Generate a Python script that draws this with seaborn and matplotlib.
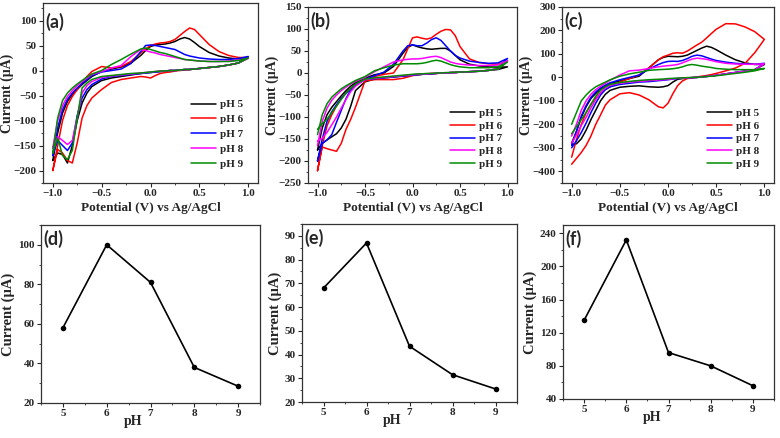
import numpy as np
import pandas as pd
import seaborn as sns
from matplotlib import pyplot as plt
from matplotlib.ticker import MultipleLocator

# Potential grid (V vs Ag/AgCl) shared by the anodic (forward) and cathodic (reverse) branch
E_GRID = [-1.0, -0.95, -0.9, -0.85, -0.8, -0.75, -0.7, -0.65, -0.6, -0.5, -0.4, -0.3,
          -0.2, -0.1, -0.05, 0.0, 0.05, 0.1, 0.15, 0.2, 0.25, 0.3, 0.35, 0.4, 0.45,
          0.5, 0.6, 0.7, 0.8, 0.9, 1.0]

PH_LABELS = ["pH 5", "pH 6", "pH 7", "pH 8", "pH 9"]
PH_COLORS = ["#000000", "#ff0000", "#0000ff", "#ff00ff", "#008c00"]

# Panel (a) currents (uA), one row per pH, values on E_GRID
A_FWD = [
    [-180, -125, -85, -62, -48, -38, -28, -20, -12, -2, 3, 7, 15, 30, 40, 48, 51, 52, 53, 55, 58, 63, 66, 63, 56, 48, 36, 29, 25, 23, 26],
    [-200, -150, -100, -70, -52, -38, -25, -12, -2, 8, 5, 8, 18, 35, 43, 50, 53, 55, 56, 58, 62, 70, 78, 85, 82, 72, 52, 38, 30, 26, 26],
    [-170, -115, -78, -58, -45, -35, -26, -18, -10, -3, 0, 3, 14, 38, 50, 51, 50, 48, 46, 44, 42, 37, 32, 29, 27, 25, 23, 22, 22, 24, 28],
    [-155, -100, -70, -52, -40, -30, -22, -15, -8, -2, 5, 10, 28, 42, 40, 37, 35, 32, 30, 28, 26, 24, 22, 21, 20, 19, 18, 18, 19, 21, 24],
    [-165, -95, -60, -45, -35, -27, -20, -13, -7, 0, 12, 22, 33, 43, 45, 42, 39, 36, 34, 31, 28, 25, 22, 21, 20, 19, 18, 18, 18, 20, 25],
]
A_REV = [
    [-180, -165, -168, -185, -150, -100, -65, -45, -32, -20, -15, -12, -9, -6, -5, -4, -3, -2, -1, 0, 0, 1, 2, 2, 3, 4, 6, 8, 11, 15, 26],
    [-200, -158, -165, -180, -185, -145, -95, -70, -55, -38, -24, -18, -15, -12, -13, -15, -10, -6, -4, -3, -1, 0, 1, 2, 3, 4, 6, 8, 11, 15, 26],
    [-170, -140, -150, -160, -145, -90, -55, -38, -28, -17, -12, -10, -8, -6, -5, -4, -3, -2, -1, 0, 0, 1, 2, 2, 3, 4, 6, 8, 11, 15, 28],
    [-155, -132, -140, -148, -140, -95, -45, -30, -22, -14, -11, -9, -7, -5, -4, -3, -2, -1, -1, 0, 0, 1, 2, 2, 3, 4, 6, 8, 11, 15, 24],
    [-165, -135, -170, -178, -160, -95, -35, -25, -18, -12, -10, -8, -6, -5, -4, -3, -2, -1, -1, 0, 0, 1, 2, 2, 3, 4, 6, 8, 11, 15, 25],
]

# Panel (b)
B_FWD = [
    [-175, -125, -95, -78, -65, -52, -40, -30, -22, -12, -4, 0, 15, 45, 58, 64, 60, 57, 55, 54, 55, 56, 56, 50, 40, 30, 20, 16, 14, 13, 14],
    [-222, -165, -120, -95, -75, -58, -45, -35, -27, -15, -8, -3, 0, 30, 55, 80, 82, 79, 77, 80, 88, 95, 99, 98, 85, 60, 32, 24, 21, 20, 28],
    [-200, -150, -110, -88, -72, -58, -46, -36, -27, -15, -6, 2, 20, 50, 62, 64, 62, 62, 68, 76, 80, 74, 62, 50, 40, 34, 27, 24, 22, 23, 33],
    [-165, -110, -80, -62, -50, -40, -32, -25, -19, -10, 3, 14, 25, 30, 31, 32, 32, 33, 35, 37, 38, 35, 30, 25, 22, 20, 18, 17, 17, 18, 28],
    [-140, -95, -70, -55, -45, -36, -29, -23, -17, -8, 5, 12, 18, 21, 21, 21, 21, 22, 24, 27, 29, 27, 23, 19, 16, 14, 12, 12, 12, 14, 25],
]
B_REV = [
    [-175, -160, -152, -145, -138, -125, -105, -75, -40, -20, -14, -11, -9, -7, -6, -5, -4, -3, -2, -2, -1, 0, 0, 1, 1, 2, 3, 4, 6, 8, 14],
    [-222, -168, -172, -175, -178, -160, -128, -105, -78, -18, -15, -15, -15, -12, -9, -6, -4, -3, -2, -1, -1, 0, 0, 1, 1, 2, 3, 4, 6, 10, 28],
    [-200, -160, -152, -140, -112, -85, -58, -38, -26, -15, -13, -11, -9, -7, -6, -5, -4, -3, -2, -2, -1, 0, 0, 1, 1, 2, 3, 4, 6, 10, 33],
    [-155, -148, -135, -118, -100, -80, -60, -42, -30, -15, -12, -10, -8, -6, -5, -4, -3, -2, -2, -1, -1, 0, 0, 1, 1, 2, 3, 4, 6, 9, 28],
    [-128, -115, -105, -90, -75, -60, -45, -35, -25, -14, -11, -9, -7, -5, -4, -3, -2, -2, -1, -1, 0, 0, 1, 1, 2, 2, 3, 4, 6, 9, 25],
]

# Panel (c)
C_FWD = [
    [-280, -230, -170, -125, -90, -68, -50, -35, -25, -15, -5, 5, 40, 75, 85, 90, 89, 88, 90, 95, 105, 115, 125, 133, 128, 118, 95, 75, 62, 55, 55],
    [-340, -265, -200, -150, -115, -88, -68, -52, -40, -20, -5, 10, 40, 75, 88, 95, 103, 105, 103, 112, 125, 138, 150, 168, 187, 205, 229, 228, 215, 195, 162],
    [-290, -230, -165, -120, -85, -62, -45, -33, -23, -10, 0, 10, 35, 55, 63, 68, 69, 68, 72, 80, 90, 95, 92, 85, 78, 72, 65, 60, 57, 56, 60],
    [-250, -200, -140, -100, -72, -52, -38, -25, -12, 10, 28, 31, 38, 45, 48, 50, 52, 55, 62, 70, 78, 82, 80, 77, 72, 67, 60, 57, 56, 56, 58],
    [-200, -150, -100, -75, -55, -40, -30, -20, -10, 5, 15, 22, 30, 33, 34, 35, 37, 40, 45, 52, 55, 52, 48, 45, 42, 38, 35, 33, 33, 33, 38],
]
C_REV = [
    [-285, -283, -262, -225, -180, -140, -100, -72, -55, -42, -38, -36, -40, -42, -40, -35, -20, -8, -5, -3, -1, 0, 2, 4, 6, 9, 15, 21, 27, 33, 55],
    [-370, -345, -320, -290, -250, -200, -160, -118, -95, -70, -65, -75, -95, -125, -130, -110, -70, -35, -15, -5, -2, 2, 5, 8, 12, 17, 28, 40, 60, 105, 162],
    [-300, -270, -235, -195, -150, -110, -75, -52, -40, -30, -25, -20, -18, -14, -12, -10, -7, -5, -3, -2, -1, 0, 2, 4, 6, 9, 15, 21, 27, 33, 60],
    [-280, -245, -205, -170, -130, -95, -65, -45, -33, -25, -20, -17, -14, -11, -10, -8, -6, -4, -3, -2, -1, 0, 2, 4, 6, 9, 15, 21, 27, 33, 58],
    [-240, -210, -180, -150, -115, -80, -55, -40, -30, -22, -17, -13, -10, -8, -7, -5, -4, -3, -2, -1, 0, 0, 2, 4, 5, 7, 12, 17, 22, 28, 38],
]

# Peak current vs pH
PH_VALUES = [5, 6, 7, 8, 9]
D_CURRENT = [58, 100, 81, 38, 28.5]
E_CURRENT = [68, 87, 43.5, 31.5, 25.5]
F_CURRENT = [135, 232, 96, 80, 56]

W, H = 780, 438


def add_axes_px(fig, left, top, right, bottom):
    return fig.add_axes([left / W, 1 - bottom / H, (right - left) / W, (bottom - top) / H])


def cv_frame(fwd, rev):
    parts = []
    for label, i_fwd, i_rev in zip(PH_LABELS, fwd, rev):
        e_loop = E_GRID + E_GRID[-2::-1]
        i_loop = i_fwd + i_rev[-2::-1]
        parts.append(pd.DataFrame({"E": e_loop, "I": i_loop, "pH": label}))
    return pd.concat(parts, ignore_index=True)


def style_axes(ax, letter, letter_dy):
    for s in ax.spines.values():
        s.set_color("#333333")
        s.set_linewidth(0.9)
    ax.tick_params(which="major", direction="out", length=3, width=0.8, labelsize=8, pad=1.5)
    ax.tick_params(which="minor", direction="out", length=1.6, width=0.6)
    ax.annotate(letter, xy=(0, 1), xycoords="axes fraction", xytext=(2, -letter_dy),
                textcoords="offset points", va="top", ha="left", fontsize=13,
                fontweight="bold", family=["Lato", "DejaVu Sans"])


def plot_cv(ax, fwd, rev, ylim, ymajor, yminor, letter, letter_dy, spacing):
    df = cv_frame(fwd, rev)
    sns.lineplot(data=df, x="E", y="I", hue="pH", palette=PH_COLORS, sort=False,
                 estimator=None, lw=1.1, ax=ax)
    ax.set_xlim(-1.1, 1.1)
    ax.set_ylim(*ylim)
    ax.xaxis.set_major_locator(MultipleLocator(0.5))
    ax.xaxis.set_minor_locator(MultipleLocator(0.25))
    ax.yaxis.set_major_locator(MultipleLocator(ymajor))
    ax.yaxis.set_minor_locator(MultipleLocator(yminor))
    ax.set_xlabel("Potential (V) vs Ag/AgCl", fontsize=9.5, labelpad=3)
    ax.set_ylabel("Current (\u03bcA)", fontsize=10, labelpad=0)
    handles, labels = ax.get_legend_handles_labels()
    ax.legend(handles, labels, loc="lower right", frameon=False, fontsize=8,
              handlelength=2.2, handletextpad=0.4, labelspacing=spacing,
              borderaxespad=0.9)
    style_axes(ax, letter, letter_dy)


def plot_trend(ax, current, ylim, ymajor, yminor, letter):
    sns.lineplot(x=PH_VALUES, y=current, color="black", marker="o", markersize=4,
                 markeredgewidth=0, lw=1.2, ax=ax)
    ax.set_xlim(4.5, 9.5)
    ax.set_ylim(*ylim)
    ax.xaxis.set_major_locator(MultipleLocator(1))
    ax.xaxis.set_minor_locator(MultipleLocator(0.5))
    ax.yaxis.set_major_locator(MultipleLocator(ymajor))
    ax.yaxis.set_minor_locator(MultipleLocator(yminor))
    ax.set_xlabel("pH", fontsize=10, labelpad=-2)
    # the reference sets "pH" between the 6 and 7 ticks
    ax.xaxis.label.set_x(0.42)
    ax.set_ylabel("Current (\u03bcA)", fontsize=10.5, labelpad=2)
    style_axes(ax, letter, 3.5)


def main():
    sns.set_theme(style="ticks")
    plt.rcParams["font.family"] = ["Liberation Serif", "DejaVu Serif"]
    plt.rcParams["font.weight"] = "bold"
    plt.rcParams["axes.labelweight"] = "bold"

    fig = plt.figure(figsize=(W / 100, H / 100), dpi=100)
    fig.patch.set_facecolor("white")

    ax_a = add_axes_px(fig, 43, 3, 258, 183)
    ax_b = add_axes_px(fig, 308, 7, 517, 183)
    ax_c = add_axes_px(fig, 562, 7, 774, 183)
    ax_d = add_axes_px(fig, 41, 225, 260, 403)
    ax_e = add_axes_px(fig, 302, 224, 517, 402)
    ax_f = add_axes_px(fig, 563, 225, 774, 399)

    plot_cv(ax_a, A_FWD, A_REV, (-225, 135), 50, 25, "(a)", 7, 0.45)
    plot_cv(ax_b, B_FWD, B_REV, (-250, 150), 50, 25, "(b)", 3.5, 0.25)
    plot_cv(ax_c, C_FWD, C_REV, (-450, 300), 100, 50, "(c)", 3.5, 0.25)

    plot_trend(ax_d, D_CURRENT, (20, 110), 20, 10, "(d)")
    plot_trend(ax_e, E_CURRENT, (20, 95), 10, 5, "(e)")
    plot_trend(ax_f, F_CURRENT, (40, 250), 40, 20, "(f)")

    fig.savefig("out.png", dpi=100, facecolor="white")
    plt.close(fig)


if __name__ == "__main__":

    main()
